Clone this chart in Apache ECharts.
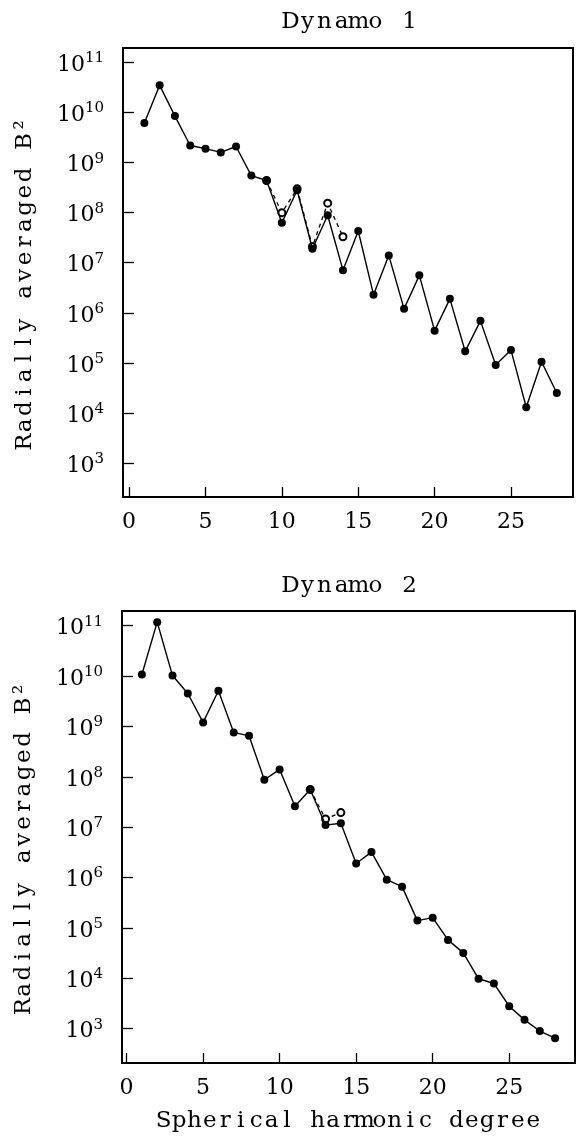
<!DOCTYPE html>
<html>
<head>
    <meta charset="utf-8">
    <script src="https://cdn.jsdelivr.net/npm/echarts@6/dist/echarts.min.js"></script>
    <style>
        html, body { margin: 0; padding: 0; background: #fff; }
    </style>
</head>
<body>
<div id="main" style="width: 577px;height: 1138px;"></div>
<script type="text/javascript">

    // spherical harmonic degree
    var degrees = [1, 2, 3, 4, 5, 6, 7, 8, 9, 10, 11, 12, 13, 14,
        15, 16, 17, 18, 19, 20, 21, 22, 23, 24, 25, 26, 27, 28];

    // Dynamo 1, radially averaged B^2
    var dynamo1 = [6.2e9, 3.5e10, 8.5e9, 2.2e9, 1.9e9, 1.6e9, 2.1e9, 5.5e8, 4.4e8, 6.3e7,
        2.8e8, 1.9e7, 8.9e7, 7.1e6, 4.3e7, 2.3e6, 1.4e7, 1.2e6, 5.6e6, 4.4e5,
        1.9e6, 1.7e5, 6.9e5, 9.1e4, 1.8e5, 1.3e4, 1.05e5, 2.5e4];
    // Dynamo 1, open circles (dashed)
    var dynamo1AltDeg = [9, 10, 11, 12, 13, 14];
    var dynamo1Alt = [4.4e8, 1.0e8, 3.0e8, 2.1e7, 1.55e8, 3.3e7];

    // Dynamo 2
    var dynamo2 = [1.07e10, 1.17e11, 1.02e10, 4.5e9, 1.2e9, 5.1e9, 7.6e8, 6.5e8, 8.7e7, 1.4e8,
        2.6e7, 5.6e7, 1.1e7, 1.2e7, 1.9e6, 3.2e6, 9.1e5, 6.6e5, 1.4e5, 1.6e5,
        5.8e4, 3.2e4, 9.8e3, 7.9e3, 2.8e3, 1.5e3, 9.0e2, 6.5e2];
    var dynamo2AltDeg = [12, 13, 14];
    var dynamo2Alt = [5.6e7, 1.45e7, 1.95e7];

    var xTicks = [0, 5, 10, 15, 20, 25];

    var FONT = 'DejaVu Serif';

    function pairs(xs, ys) {
        var out = [];
        for (var i = 0; i < xs.length; i++) {
            out.push([xs[i], ys[i]]);
        }
        return out;
    }

    // each character in its own fixed-width cell (the original lettering is evenly spaced)
    function spaced(s) {
        return s.split('').map(function (c) {
            return '{c|' + c + '}';
        }).join('');
    }

    function cellRich(w, size) {
        return {c: {width: w, align: 'center', fontFamily: FONT, fontSize: size, color: '#000'}};
    }

    function powLabel(v) {
        var e = Math.round(Math.log(v) / Math.LN10);
        return '{b|10}{s|' + e + '}';
    }

    function xAxisOf(idx, min, max, withName) {
        var ax = {
            type: 'value',
            gridIndex: idx,
            min: min,
            max: max,
            axisLine: {onZero: false, lineStyle: {color: '#000', width: 2}},
            axisTick: {inside: true, length: 10, customValues: xTicks, lineStyle: {color: '#000', width: 1.3}},
            axisLabel: {customValues: xTicks, margin: 14, fontFamily: FONT, fontSize: 22, color: '#000'},
            splitLine: {show: false}
        };
        if (withName) {
            ax.name = spaced('Spherical harmonic degree');
            ax.nameLocation = 'middle';
            ax.nameGap = 47;
            ax.nameTextStyle = {rich: cellRich(15.4, 23)};
        }
        return ax;
    }

    function yAxisOf(idx) {
        return {
            type: 'log',
            gridIndex: idx,
            min: Math.pow(10, 2.32),
            max: Math.pow(10, 11.29),
            splitNumber: 9,
            axisLine: {onZero: false, lineStyle: {color: '#000', width: 2}},
            axisTick: {inside: true, length: 11, lineStyle: {color: '#000', width: 1.3}},
            axisLabel: {
                margin: 19,
                showMinLabel: false,
                showMaxLabel: false,
                formatter: powLabel,
                rich: {
                    b: {fontFamily: FONT, fontSize: 22, lineHeight: 23, padding: [6, 0, 0, 0], color: '#000'},
                    s: {fontFamily: FONT, fontSize: 15, lineHeight: 15, verticalAlign: 'top', color: '#000'}
                }
            },
            splitLine: {show: false},
            name: spaced('Radially averaged B²'),
            nameLocation: 'middle',
            nameGap: 86,
            nameTextStyle: {rich: cellRich(16.7, 23), padding: [0, 22, 0, 0]}
        };
    }

    function solid(idx, data) {
        return {
            type: 'line',
            xAxisIndex: idx,
            yAxisIndex: idx,
            data: data,
            symbol: 'circle',
            symbolSize: 8,
            itemStyle: {color: '#000'},
            lineStyle: {color: '#000', width: 1.4},
            z: 3
        };
    }

    function dashed(idx, data) {
        return {
            type: 'line',
            xAxisIndex: idx,
            yAxisIndex: idx,
            data: data,
            symbol: 'emptyCircle',
            symbolSize: 7,
            itemStyle: {color: '#000', borderColor: '#000', borderWidth: 1.3},
            lineStyle: {color: '#000', width: 1.3, type: [4, 4]},
            z: 2
        };
    }

    var myChart = echarts.init(document.getElementById('main'));

    var option = {
        animation: false,
        backgroundColor: '#fff',
        graphic: [
            {type: 'text', x: 350, y: 22, style: {text: spaced('Dynamo 1'), rich: cellRich(17, 23), align: 'center', verticalAlign: 'middle'}},
            {type: 'text', x: 350, y: 586, style: {text: spaced('Dynamo 2'), rich: cellRich(17, 23), align: 'center', verticalAlign: 'middle'}}
        ],
        grid: [
            {left: 123, top: 48, width: 450, height: 449, show: true, borderColor: '#000', borderWidth: 2, containLabel: false},
            {left: 122, top: 611, width: 453, height: 452, show: true, borderColor: '#000', borderWidth: 2, containLabel: false}
        ],
        xAxis: [
            xAxisOf(0, -0.4, 29.06, false),
            xAxisOf(1, -0.3, 29.3, true)
        ],
        yAxis: [yAxisOf(0), yAxisOf(1)],
        series: [
            dashed(0, pairs(dynamo1AltDeg, dynamo1Alt)),
            solid(0, pairs(degrees, dynamo1)),
            dashed(1, pairs(dynamo2AltDeg, dynamo2Alt)),
            solid(1, pairs(degrees, dynamo2))
        ]
    };

    myChart.setOption(option);

</script>
</body>
</html>
